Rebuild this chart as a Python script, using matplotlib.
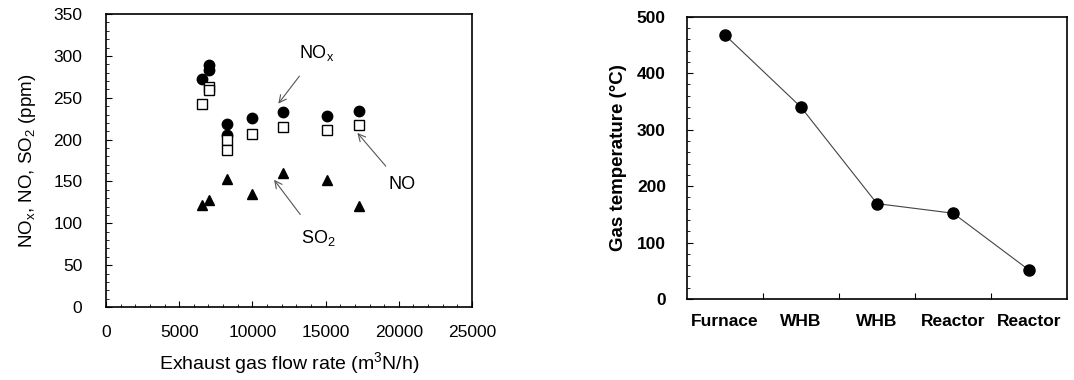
import matplotlib
matplotlib.use('Agg')
import matplotlib.pyplot as plt
from matplotlib.ticker import MultipleLocator

plt.rcParams['font.family'] = ['Liberation Sans', 'DejaVu Sans']
plt.rcParams['mathtext.default'] = 'regular'

# left panel data (exhaust gas flow rate vs concentrations)
flow_nox = [6550, 7060, 7060, 8250, 8250, 9950, 12070, 15070, 17250]
nox = [273, 289, 283, 219, 206, 226, 233, 228, 234]
flow_no = [6550, 7060, 7060, 8250, 8250, 9950, 12070, 15070, 17250]
no = [243, 263, 259, 199, 188, 207, 215, 212, 217]
flow_so2 = [6550, 7060, 8250, 9950, 12070, 15070, 17250]
so2 = [122, 128, 153, 135, 160, 152, 121]

# right panel data (gas temperature along the process)
stages = ['Furnace', 'WHB', 'WHB', 'Reactor', 'Reactor']
temps = [468, 340, 169, 152, 51]

fig = plt.figure(figsize=(10.74, 3.8), dpi=100)

ax1 = fig.add_axes([0.0987, 0.192, 0.3408, 0.771])
ax1.plot(flow_nox, nox, 'o', color='black', markersize=7.5)
ax1.plot(flow_no, no, 's', markerfacecolor='white', markeredgecolor='black',
         markersize=7, markeredgewidth=1.0)
ax1.plot(flow_so2, so2, '^', color='black', markersize=7.5)
ax1.set_xlim(0, 25000)
ax1.set_ylim(0, 350)
ax1.xaxis.set_major_locator(MultipleLocator(5000))
ax1.xaxis.set_minor_locator(MultipleLocator(1000))
ax1.yaxis.set_major_locator(MultipleLocator(50))
ax1.yaxis.set_minor_locator(MultipleLocator(10))
ax1.tick_params(which='both', direction='in', labelsize=12.5)
ax1.tick_params(which='major', length=4)
ax1.tick_params(which='minor', length=2.5)
ax1.tick_params(axis='x', pad=13)
ax1.tick_params(axis='y', pad=17)
for s in ax1.spines.values():
    s.set_linewidth(1.2)
ax1.set_xlabel('Exhaust gas flow rate (m$^3$N/h)', fontsize=14, labelpad=7)
ax1.set_ylabel('NO$_x$, NO, SO$_2$ (ppm)', fontsize=13.5, labelpad=11)

arr = dict(arrowstyle='->', color='#555555', lw=0.8)
ax1.annotate('NO$_x$', xy=(11770, 243), xytext=(14400, 303), fontsize=13,
             ha='center', va='center', arrowprops=dict(arr, shrinkA=9, shrinkB=0))
ax1.annotate('NO', xy=(17170, 208), xytext=(20200, 146), fontsize=13,
             ha='center', va='center', arrowprops=dict(arr, shrinkA=7, shrinkB=0))
ax1.annotate('SO$_2$', xy=(11480, 152), xytext=(14500, 82), fontsize=13,
             ha='center', va='center', arrowprops=dict(arr, shrinkA=10, shrinkB=0))

ax2 = fig.add_axes([0.6394, 0.213, 0.3544, 0.743])
xpos = [i + 0.5 for i in range(len(stages))]
ax2.plot(xpos, temps, '-', color='#444444', lw=0.8)
ax2.plot(xpos, temps, 'o', color='black', markersize=8)
ax2.set_xlim(0, 5)
ax2.set_ylim(0, 500)
ax2.set_xticks([1, 2, 3, 4])
ax2.set_xticklabels([])
ax2.set_xticks(xpos, minor=True)
ax2.set_xticklabels(stages, minor=True, fontweight='bold', fontsize=12.5)
ax2.yaxis.set_major_locator(MultipleLocator(100))
ax2.yaxis.set_minor_locator(MultipleLocator(20))
ax2.tick_params(which='both', direction='in')
ax2.tick_params(axis='x', which='minor', length=0, pad=11)
ax2.tick_params(axis='x', which='major', length=4)
ax2.tick_params(axis='y', which='major', length=4, labelsize=12.5, pad=15)
ax2.tick_params(axis='y', which='minor', length=2.5)
for lab in ax2.get_yticklabels():
    lab.set_fontweight('bold')
for s in ax2.spines.values():
    s.set_linewidth(1.2)
ax2.set_ylabel('Gas temperature (\u00b0C)', fontsize=13.5, fontweight='bold', labelpad=7)

fig.savefig('out.png', dpi=100)
